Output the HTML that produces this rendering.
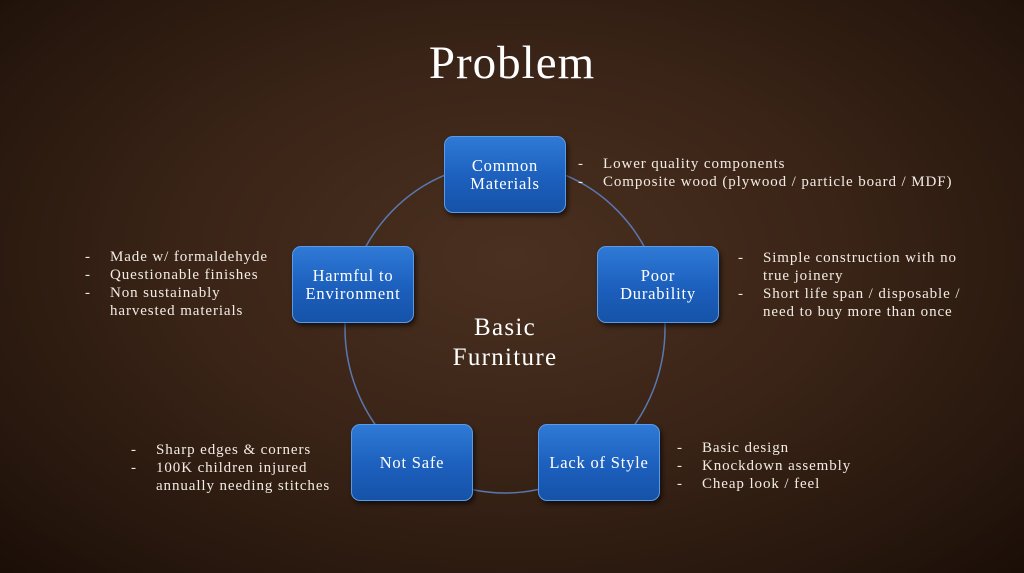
<!DOCTYPE html>
<html><head><meta charset="utf-8"><style>
html,body{margin:0;padding:0}
body{width:1024px;height:573px;overflow:hidden;position:relative;font-family:"Liberation Serif",serif;color:#f2ece4;
background:radial-gradient(ellipse at 50% 45%,#4a3020 0%,#3a2417 45%,#24150c 85%,#1a0e07 100%);}
.title{position:absolute;left:0;width:1024px;top:36px;text-align:center;font-size:47px;letter-spacing:1px;color:#fff}
.box{position:absolute;width:122px;height:77px;border-radius:9px;background:linear-gradient(#2f7ad6,#1c5fbd 55%,#1653a8);
border:1px solid #5a9ae6;box-shadow:2px 3px 5px rgba(0,0,0,.6);display:flex;align-items:center;justify-content:center;text-align:center;color:#fff;font-size:16.5px;letter-spacing:.8px;line-height:18px;box-sizing:border-box;white-space:nowrap}
.t{position:absolute;font-size:15px;line-height:18px;letter-spacing:.9px;white-space:nowrap}
.t div{position:relative;padding-left:25px}
.t div.b::before{content:"-";position:absolute;left:0}
.center{position:absolute;left:405px;top:313px;width:200px;text-align:center;font-size:25px;letter-spacing:1.3px;line-height:30px;color:#fff}
</style></head><body>
<svg width="1024" height="573" style="position:absolute;left:0;top:0">
<ellipse cx="505" cy="328" rx="160" ry="165" fill="none" stroke="#5a78b0" stroke-width="1.5"/>
</svg>
<div class="title">Problem</div>
<div class="box" style="left:444px;top:136px">Common<br>Materials</div>
<div class="box" style="left:597px;top:246px">Poor<br>Durability</div>
<div class="box" style="left:292px;top:246px">Harmful to<br>Environment</div>
<div class="box" style="left:351px;top:424px">Not Safe</div>
<div class="box" style="left:538px;top:424px">Lack of Style</div>
<div class="center">Basic<br>Furniture</div>
<div class="t" style="left:578px;top:155px"><div class="b">Lower quality components</div><div class="b">Composite wood (plywood / particle board / MDF)</div></div>
<div class="t" style="left:738px;top:249px"><div class="b">Simple construction with no</div><div>true joinery</div><div class="b">Short life span / disposable /</div><div>need to buy more than once</div></div>
<div class="t" style="left:85px;top:248px"><div class="b">Made w/ formaldehyde</div><div class="b">Questionable finishes</div><div class="b">Non sustainably</div><div>harvested materials</div></div>
<div class="t" style="left:131px;top:441px"><div class="b">Sharp edges &amp; corners</div><div class="b">100K children injured</div><div>annually needing stitches</div></div>
<div class="t" style="left:677px;top:439px"><div class="b">Basic design</div><div class="b">Knockdown assembly</div><div class="b">Cheap look / feel</div></div>
</body></html>
